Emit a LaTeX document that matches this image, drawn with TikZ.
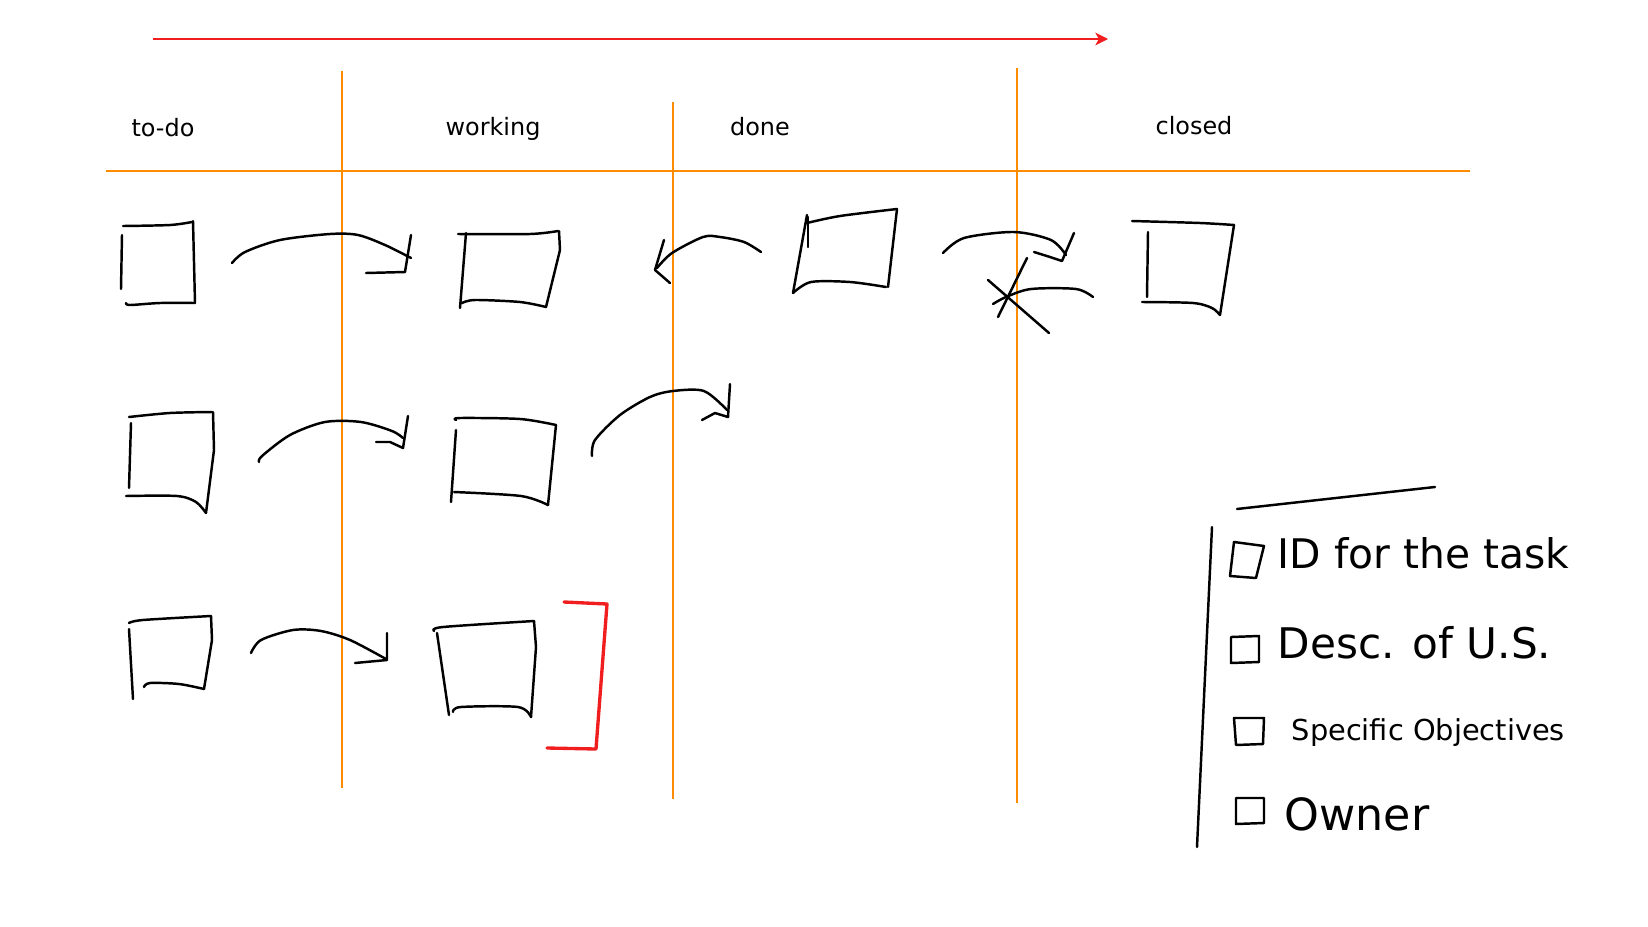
\documentclass[tikz,border=0pt]{standalone}
\usepackage{fontspec}
\setmainfont{DejaVu Sans}
\usetikzlibrary{arrows.meta}
\definecolor{laneorange}{RGB}{255,140,0}
\definecolor{penred}{RGB}{240,30,30}

\begin{document}
\begin{tikzpicture}[x=0.01cm, y=-0.01cm,
    pen/.style={line width=0.7pt, line cap=round, line join=round},
    redpen/.style={pen, draw=penred, line width=0.95pt},
    lane/.style={draw=laneorange, line width=0.45pt},
    timeline/.style={draw=penred, line width=0.5pt, -{Stealth[length=3.6pt, width=3.6pt, inset=1pt]}},
    head/.style={font=\fontsize{6.8pt}{8pt}\selectfont, inner sep=0pt},
    note/.style={inner sep=0pt, anchor=west}]
    \useasboundingbox (0,0) rectangle (1648,927);
    % timeline
    \coordinate (tstart) at (153,39);
    \coordinate (tend) at (1108,39);
    \draw [timeline] (tstart) -- (tend);
    % lanes
    \draw [lane] (106,171) -- (1470,171);
    \draw [lane] (342,71) -- (342,788);
    \draw [lane] (673,102) -- (673,799);
    \draw [lane] (1017,68) -- (1017,803);
    \node [head] (todo) at (163,128) {to-do};
    \node [head] (working) at (493,129) {working};
    \node [head] (done) at (760,127) {done};
    \node [head] (closed) at (1194,126) {closed};
    % row 1
    \draw [pen] plot[smooth] coordinates {(123,226) (170,225) (192,222)};
    \draw [pen] (193,221) -- (195,303);
    \draw [pen] plot[smooth] coordinates {(126,303) (130,305) (160,303) (195,303)};
    \draw [pen] (122,235) -- (121,289);
    \draw [pen] plot[smooth] coordinates {(232,263) (245,252) (280,240) (330,234) (358,235) (385,245) (411,258)};
    \draw [pen] (411,235) -- (405,272) -- (366,273);
    \draw [pen] plot[smooth] coordinates {(458,234) (530,234) (558,231)};
    \draw [pen] (559,231) -- (560,250) -- (546,307);
    \draw [pen] plot[smooth] coordinates {(462,303) (475,300) (520,302) (546,307)};
    \draw [pen] (466,233) -- (460,308);
    \draw [pen] plot[smooth] coordinates {(761,252) (744,242) (720,237) (703,237) (672,253) (657,268)};
    \draw [pen] (664,240) -- (655,270) -- (670,283);
    \draw [pen] plot[smooth] coordinates {(807,223) (840,216) (897,209)};
    \draw [pen] (897,209) -- (888,287);
    \draw [pen] plot[smooth] coordinates {(793,293) (811,282) (850,282) (886,287)};
    \draw [pen] (807,215) -- (793,293);
    \draw [pen] (808,217) -- (808,247);
    \draw [pen] plot[smooth] coordinates {(943,253) (964,238) (1014,232) (1051,240) (1066,255)};
    \draw [pen] (1074,233) -- (1062,261) -- (1050,257) -- (1034,252);
    \draw [pen] plot[smooth] coordinates {(1093,297) (1076,289) (1031,289) (1006,297) (993,304)};
    \draw [pen] (1027,258) -- (998,317);
    \draw [pen] (988,280) -- (1049,333);
    \draw [pen] plot[smooth] coordinates {(1132,221) (1200,223) (1234,225)};
    \draw [pen] (1234,225) -- (1220,315);
    \draw [pen] plot[smooth] coordinates {(1142,302) (1193,303) (1212,308) (1220,315)};
    \draw [pen] (1148,232) -- (1147,297);
    % row 2
    \draw [pen] plot[smooth] coordinates {(129,417) (170,413) (212,412)};
    \draw [pen] (213,412) -- (214,450) -- (206,513);
    \draw [pen] plot[smooth] coordinates {(126,496) (177,496) (196,502) (206,513)};
    \draw [pen] (131,423) -- (129,488);
    \draw [pen] plot[smooth] coordinates {(259,462) (262,456) (290,435) (325,422) (361,422) (392,431) (403,438)};
    \draw [pen] (408,416) -- (403,448) -- (390,442) -- (376,442);
    \draw [pen] plot[smooth] coordinates {(456,420) (460,418) (520,419) (556,425)};
    \draw [pen] (556,425) -- (548,505);
    \draw [pen] plot[smooth] coordinates {(454,492) (521,496) (548,505)};
    \draw [pen] (456,430) -- (451,502);
    \draw [pen] plot[smooth] coordinates {(592,456) (595,440) (620,415) (650,397) (673,391) (704,391) (727,410)};
    \draw [pen] (730,384) -- (728,417) -- (715,413) -- (702,420);
    % row 3
    \draw [pen] plot[smooth] coordinates {(129,623) (143,620) (211,616)};
    \draw [pen] (211,616) -- (212,640) -- (204,689);
    \draw [pen] plot[smooth] coordinates {(144,687) (150,683) (179,684) (204,689)};
    \draw [pen] (129,629) -- (133,699);
    \draw [pen] plot[smooth] coordinates {(251,653) (261,640) (293,630) (321,631) (350,640) (386,659)};
    \draw [pen] (387,633) -- (387,660) -- (355,663);
    \draw [pen] plot[smooth] coordinates {(434,631) (443,627) (534,621)};
    \draw [pen] (534,621) -- (536,647) -- (531,717);
    \draw [pen] plot[smooth] coordinates {(453,712) (461,707) (518,707) (531,717)};
    \draw [pen] (437,633) -- (449,715);
    \draw [redpen] (564,602) -- (607,604) -- (596,749) -- (547,748);
    % card fields
    \draw [pen] (1237,509) -- (1435,487);
    \draw [pen] (1212,527) -- (1197,847);
    \draw [pen] (1234,542) -- (1264,546) -- (1256,578) -- (1230,576) -- cycle;
    \draw [pen] (1231,637) -- (1259,636) -- (1259,662) -- (1231,663) -- cycle;
    \draw [pen] (1234,718) -- (1264,718) -- (1263,744) -- (1236,745) -- cycle;
    \draw [pen] (1236,798) -- (1264,798) -- (1264,823) -- (1236,824) -- cycle;
    \node [note, font=\fontsize{11.6pt}{13pt}\selectfont] (fid) at (1277,553) {ID for the task};
    \node [note, font=\fontsize{12pt}{14pt}\selectfont] (fdesc) at (1277,643) {Desc. of U.S.};
    \node [note, font=\fontsize{8.2pt}{10pt}\selectfont] (fobj) at (1291,733) {Specific Objectives};
    \node [note, font=\fontsize{12.6pt}{14pt}\selectfont] (fowner) at (1284,814) {Owner};
\end{tikzpicture}
\end{document}
